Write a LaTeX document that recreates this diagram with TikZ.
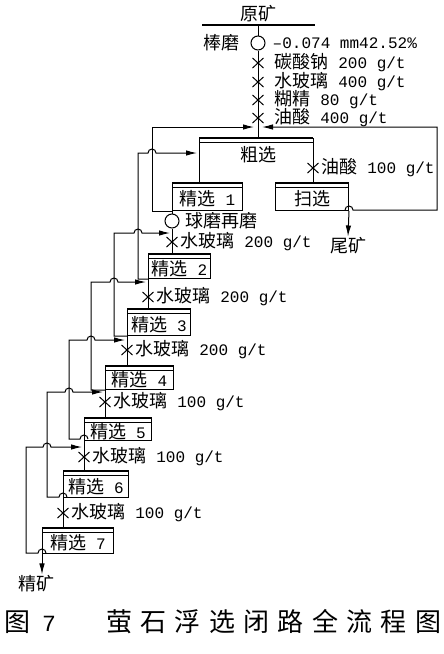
\documentclass[tikz,border=0pt]{standalone}
\usepackage{fontspec}
\setmainfont[Scale=0.89]{Liberation Mono}
\newfontfamily\zhfont{Noto Sans CJK SC}
\newfontfamily\capfont[LetterSpace=32]{Noto Sans CJK SC}
\usetikzlibrary{arrows.meta,positioning,shapes.misc}

\newcommand{\zh}[1]{{\zhfont #1}}
\newcommand{\dose}[2]{\zh{#1} #2 g/t}

\tikzset{
  pipe/.style={line width=1pt},
  flow/.style={pipe, -{Latex[length=11pt,width=5.5pt]}},
  bar/.style={line width=2.5pt},
  mill/.style={circle, draw, pipe, minimum size=14pt, inner sep=0pt},
  reag/.style={cross out, draw, pipe, minimum width=10pt, minimum height=9pt, inner sep=0pt},
  cell/.style={draw, pipe, anchor=north west, inner sep=0pt, text height=20pt, text depth=2pt},
  hopr/.style={insert path={arc[start angle=180, end angle=0, radius=4pt]}},
  hopl/.style={insert path={arc[start angle=0, end angle=180, radius=4pt]}},
}

\begin{document}
\begin{tikzpicture}[x=1pt, y=-1pt, inner sep=1pt, font=\fontsize{18}{21}\selectfont]
\useasboundingbox (0,0) rectangle (444,654);

% feed, rod mill, reagents
\node (ore) at (258,14) {\zh{原矿}};
\coordinate (top) at (258,25);
\draw[line width=2pt] (202,25) -- (315,25);
\node[mill] (rod) at (258,43) {};
\node[left=10pt of rod] (rodname) {\zh{棒磨}};
\node[right=6pt of rod] (size) {--0.074 mm42.52\%};
\coordinate (rin) at (258,138);
\draw[pipe] (top) -- (rod) -- (rin);
\foreach \y/\n/\rg/\amt in {63/1/碳酸钠/200, 82/2/水玻璃/400, 100/3/糊精/80, 118/4/油酸/400}{
  \node[reag] (r\n) at (258,\y) {};
  \node[right=10pt of r\n] (d\n) {\dose{\rg}{\amt}};
}

% rougher and scavenger
\coordinate (rl) at (199,138);
\coordinate (rr) at (313,138);
\draw[bar] (rl) -- (rr);
\draw[pipe] (199,142) -- (313,142);
\node (rough) at (258,155) {\zh{粗选}};
\node[cell, minimum width=70pt, minimum height=28pt] (c1) at (172,182) {\zh{精选} 1};
\node[cell, minimum width=73pt, minimum height=28pt] (sc) at (275,182) {\zh{扫选}};
\draw[pipe] (rl) -- (rl |- c1.north);
\draw[pipe] (rr) -- (rr |- sc.north);
\node[reag] (r5) at (313,168) {};
\node[right=2pt of r5] (d5) {\dose{油酸}{100}};
\node (tail) at (348,246) {\zh{尾矿}};
\draw[flow] (sc.south east) -- (tail.north);

% middlings back to the rougher feed
\draw[flow] (c1.south west) -| (152,127) -- (254,127);
\draw[flow] (345,210) [hopr] -- (437,210) -- (437,127) -- (262,127);

% cleaners
\node[cell, minimum width=62pt, minimum height=25pt] (c2) at (148,253) {\zh{精选} 2};
\node[cell, minimum width=63pt, minimum height=27pt] (c3) at (127,308) {\zh{精选} 3};
\node[cell, minimum width=68pt, minimum height=24pt] (c4) at (105,365) {\zh{精选} 4};
\node[cell, minimum width=67pt, minimum height=23pt] (c5) at (84,417) {\zh{精选} 5};
\node[cell, minimum width=65pt, minimum height=27pt] (c6) at (63,470) {\zh{精选} 6};
\node[cell, minimum width=71pt, minimum height=26pt] (c7) at (42,527) {\zh{精选} 7};
\foreach \c in {c1,c2,c3,c4,c5,c6,c7,sc}{
  \draw[bar] ([yshift=-1pt]\c.north west) -- ([yshift=-1pt]\c.north east);
  \draw[pipe] ([yshift=-5pt]\c.north west) -- ([yshift=-5pt]\c.north east);
}

\node[mill] (regrind) at (172,221) {};
\node[right=5pt of regrind] (rgname) {\zh{球磨再磨}};
\draw[pipe] (c1.south west) -- (regrind) -- (regrind |- c2.north);
\draw[pipe] (c2.south west) -- (c2.south west |- c3.north);
\draw[pipe] (c3.south west) -- (c3.south west |- c4.north);
\draw[pipe] (c4.south west) -- (c4.south west |- c5.north);
\draw[pipe] (c5.south west) -- (c5.south west |- c6.north);
\draw[pipe] (c6.south west) -- (c6.south west |- c7.north);
\foreach \x/\y/\n/\amt in {172/242/2/200, 148/297/3/200, 127/350/4/200, 105/402/5/100, 84/457/6/100, 63/513/7/100}{
  \node[reag] (x\n) at (\x,\y) {};
  \node[right=2pt of x\n] (w\n) {\dose{水玻璃}{\amt}};
}

% tailings of each cleaner back to the one before
\draw[flow] (c2.south west) -| (138,153) -- (148,153) [hopr] -- (197,153);
\draw[flow] (c3.south west) -| (114,233) -- (134,233) [hopr] -- (170,233);
\draw[flow] (c4.south west) -| (91,282) -- (110,282) [hopr] -- (146,282);
\draw[flow] (88,439) [hopl] -| (69,340) -- (87,340) [hopr] -- (125,340);
\draw[flow] (67,497) [hopl] -| (47,392) -- (65,392) [hopr] -- (103,392);
\draw[flow] (46,553) [hopl] -| (26,447) -- (43,447) [hopr] -- (82,447);

\node (conc) at (37,584) {\zh{精矿}};
\draw[flow] (c7.south west) -- (c7.south west |- conc.north);

% caption
\node[anchor=west, font=\fontsize{26}{30}\selectfont] (fig) at (3,622) {\zh{图}\hspace{12pt}7};
\node[anchor=west, font=\fontsize{26}{30}\selectfont] (title) at (105,622) {\capfont 萤石浮选闭路全流程图};
\end{tikzpicture}
\end{document}
